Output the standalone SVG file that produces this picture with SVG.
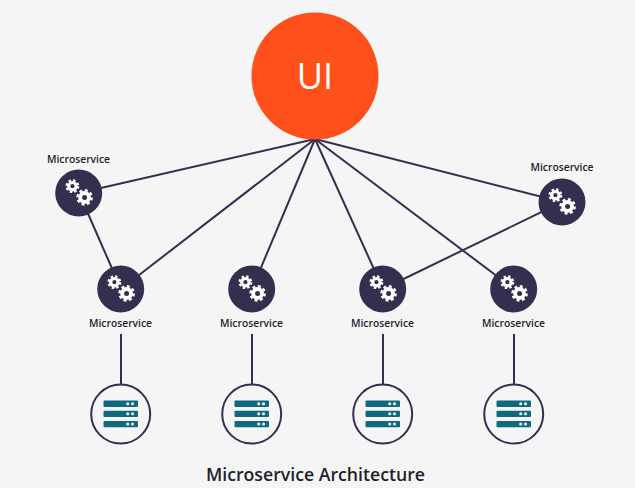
<svg xmlns="http://www.w3.org/2000/svg" xmlns:xlink="http://www.w3.org/1999/xlink" width="635" height="488" viewBox="0 0 635 488">
<style>
.l{stroke:#33304f;stroke-width:2;fill:none}
.t{font-family:"Open Sans","Liberation Sans",sans-serif;font-size:10.3px;font-weight:600;fill:#1f1f2b;text-anchor:middle}
.svc{fill:#33304f}
.db{fill:#f5f5f5;stroke:#33304f;stroke-width:2}
.bar{fill:#0f6a80}
.dot{fill:#fff}
</style>
<defs>
<g id="gear">
<circle r="3.7" fill="none" stroke="#fff" stroke-width="3.2"/>
<circle r="5.7" fill="none" stroke="#fff" stroke-width="2.4" stroke-dasharray="2.4 2.08"/>
</g>
<g id="gears">
<use xlink:href="#gear" href="#gear" transform="translate(-6.6,-6.8)"/>
<use xlink:href="#gear" href="#gear" transform="translate(5.6,4.4) scale(1.2)"/>
</g>
<g id="server">
<rect class="bar" x="-17.5" y="-13.5" width="34.5" height="6.5" rx="1"/>
<rect class="bar" x="-17.5" y="-3.3" width="34.5" height="6.3" rx="1"/>
<rect class="bar" x="-17.5" y="7" width="34.5" height="6.2" rx="1"/>
<g class="dot">
<circle cx="6.7" cy="-10.2" r="1.5"/><circle cx="11.5" cy="-10.2" r="1.5"/>
<circle cx="6.7" cy="-0.2" r="1.5"/><circle cx="11.5" cy="-0.2" r="1.5"/>
<circle cx="6.7" cy="10" r="1.5"/><circle cx="11.5" cy="10" r="1.5"/>
</g>
</g>
</defs>
<rect width="635" height="488" fill="#f5f5f5"/>
<g id="connectors">
<line class="l" x1="315" y1="139" x2="79" y2="193"/>
<line class="l" x1="315" y1="139" x2="121" y2="289"/>
<line class="l" x1="315" y1="139" x2="252" y2="289"/>
<line class="l" x1="315" y1="139" x2="383" y2="289"/>
<line class="l" x1="315" y1="139" x2="514" y2="289"/>
<line class="l" x1="315" y1="139" x2="562" y2="202"/>
<line class="l" x1="79" y1="193" x2="121" y2="289"/>
<line class="l" x1="562" y1="202" x2="383" y2="289"/>
<line class="l" x1="121" y1="334" x2="121" y2="385"/>
<line class="l" x1="252" y1="334" x2="252" y2="385"/>
<line class="l" x1="383" y1="334" x2="383" y2="385"/>
<line class="l" x1="514" y1="334" x2="514" y2="385"/>
</g>
<g id="ui">
<circle cx="315" cy="76" r="63.5" fill="#ff4f1a"/>
<text x="315" y="89" font-family="'Open Sans','Liberation Sans',sans-serif" font-size="36" fill="#fff" text-anchor="middle">UI</text>
</g>
<g id="ms1"><circle class="svc" cx="78.7" cy="193" r="23.5"/><use xlink:href="#gears" href="#gears" x="79" y="193"/><text class="t" x="78.5" y="163">Microservice</text></g>
<g id="ms2"><circle class="svc" cx="562" cy="202" r="23.5"/><use xlink:href="#gears" href="#gears" x="562" y="202"/><text class="t" x="562" y="171">Microservice</text></g>
<g id="ms3"><circle class="svc" cx="120.7" cy="289" r="23.5"/><use xlink:href="#gears" href="#gears" x="121" y="289"/><text class="t" x="120.5" y="327">Microservice</text></g>
<g id="ms4"><circle class="svc" cx="251.7" cy="289" r="23.5"/><use xlink:href="#gears" href="#gears" x="252" y="289"/><text class="t" x="251.5" y="327">Microservice</text></g>
<g id="ms5"><circle class="svc" cx="382.7" cy="289" r="23.5"/><use xlink:href="#gears" href="#gears" x="383" y="289"/><text class="t" x="382.5" y="327">Microservice</text></g>
<g id="ms6"><circle class="svc" cx="513.7" cy="289" r="23.5"/><use xlink:href="#gears" href="#gears" x="514" y="289"/><text class="t" x="513.5" y="327">Microservice</text></g>
<g id="db1"><circle class="db" cx="120.7" cy="414" r="29.5"/><use xlink:href="#server" href="#server" x="121" y="414"/></g>
<g id="db2"><circle class="db" cx="251.7" cy="414" r="29.5"/><use xlink:href="#server" href="#server" x="252" y="414"/></g>
<g id="db3"><circle class="db" cx="382.7" cy="414" r="29.5"/><use xlink:href="#server" href="#server" x="383" y="414"/></g>
<g id="db4"><circle class="db" cx="513.7" cy="414" r="29.5"/><use xlink:href="#server" href="#server" x="514" y="414"/></g>
<text id="title" x="315.5" y="481" font-family="'Open Sans','Liberation Sans',sans-serif" font-size="17.7" font-weight="600" fill="#1f1f2b" text-anchor="middle">Microservice Architecture</text>
</svg>
